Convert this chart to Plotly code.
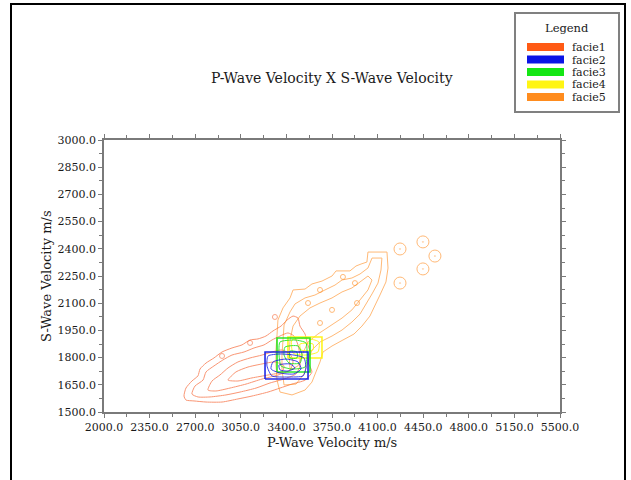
import plotly.graph_objects as go

# ---------------------------------------------------------------------------
# Facies names and colours
# ---------------------------------------------------------------------------
facies = ["facie1", "facie2", "facie3", "facie4", "facie5"]
facie_colors = ["#FF5A14", "#0A14E6", "#14E614", "#FFF514", "#FF8C1E"]

# Axis ticks (m/s)
x_ticks = [2000, 2350, 2700, 3050, 3400, 3750, 4100, 4450, 4800, 5150, 5500]
y_ticks = [1500, 1650, 1800, 1950, 2100, 2250, 2400, 2550, 2700, 2850, 3000]

# ---------------------------------------------------------------------------
# Density contour rings, (Vp, Vs) in m/s, from outer level to inner level
# ---------------------------------------------------------------------------
facie1_level1 = [(2614, 1588), (2629, 1632), (2675, 1671), (2721, 1699), (2737, 1737),
                 (2783, 1770), (2844, 1798), (2906, 1831), (2982, 1853), (3059, 1870),
                 (3121, 1897), (3182, 1903), (3243, 1919), (3297, 1947), (3359, 1974),
                 (3405, 2007), (3451, 2029), (3489, 2018), (3504, 1974), (3543, 1930),
                 (3558, 1886), (3581, 1831), (3566, 1776), (3596, 1721), (3543, 1676),
                 (3443, 1654), (3351, 1632), (3259, 1610), (3136, 1588), (3028, 1572),
                 (2906, 1555), (2783, 1555), (2691, 1561), (2629, 1566)]
facie1_level2 = [(2675, 1599), (2698, 1643), (2760, 1676), (2783, 1721), (2844, 1754),
                 (2913, 1787), (2982, 1814), (3075, 1831), (3151, 1853), (3228, 1870),
                 (3289, 1897), (3351, 1919), (3412, 1936), (3458, 1919), (3489, 1870),
                 (3504, 1809), (3504, 1754), (3474, 1710), (3382, 1682), (3274, 1660),
                 (3167, 1632), (3044, 1610), (2936, 1594), (2814, 1583), (2721, 1583)]
facie1_level3 = [(2798, 1621), (2829, 1671), (2890, 1704), (2952, 1743), (3028, 1776),
                 (3121, 1798), (3213, 1814), (3289, 1831), (3366, 1842), (3428, 1820),
                 (3451, 1776), (3428, 1732), (3335, 1704), (3213, 1682), (3090, 1654),
                 (2967, 1632), (2860, 1616)]
facie1_level4 = [(2952, 1676), (3013, 1721), (3105, 1748), (3213, 1765), (3312, 1776),
                 (3382, 1754), (3366, 1721), (3259, 1704), (3136, 1688), (3028, 1671)]
facie1_peaks = [(3312, 2024), (3121, 1881), (2906, 1809)]

facie5_level1 = [(3351, 1610), (3328, 1676), (3320, 1759), (3320, 1842), (3328, 1925),
                 (3335, 2007), (3374, 2074), (3428, 2129), (3451, 2173), (3543, 2178),
                 (3596, 2206), (3673, 2222), (3750, 2250), (3781, 2278), (3888, 2278),
                 (3934, 2305), (3973, 2316), (4018, 2327), (4026, 2382), (4172, 2382),
                 (4180, 2294), (4164, 2217), (4118, 2145), (4087, 2101), (4041, 2029),
                 (3980, 1974), (3919, 1930), (3834, 1897), (3750, 1864), (3681, 1831),
                 (3658, 1776), (3627, 1721), (3596, 1665), (3543, 1621), (3443, 1594)]
facie5_level2 = [(3382, 1649), (3366, 1732), (3366, 1814), (3374, 1897), (3382, 1980),
                 (3428, 2052), (3466, 2096), (3543, 2129), (3619, 2145), (3696, 2173),
                 (3773, 2200), (3827, 2228), (3903, 2239), (3965, 2261), (4026, 2294),
                 (4057, 2349), (4133, 2349), (4126, 2283), (4103, 2211), (4057, 2151),
                 (4011, 2096), (3965, 2040), (3903, 1996), (3827, 1952), (3750, 1919),
                 (3658, 1886), (3596, 1842), (3566, 1776), (3535, 1710), (3474, 1654)]
facie5_level3 = [(3428, 1732), (3420, 1814), (3428, 1897), (3451, 1974), (3504, 2029),
                 (3581, 2074), (3658, 2101), (3750, 2129), (3827, 2162), (3903, 2184),
                 (3965, 2217), (4026, 2250), (4057, 2228), (4026, 2173), (3965, 2118),
                 (3903, 2063), (3827, 2018), (3735, 1974), (3642, 1930), (3566, 1886),
                 (3520, 1814), (3489, 1754)]
facie5_peaks = [(3834, 2245), (3926, 2211), (3658, 2173), (3566, 2101), (3750, 2063),
                (3942, 2101), (3658, 1991)]
facie5_outliers = [(4272, 2399), (4448, 2438), (4540, 2360), (4448, 2289), (4272, 2211)]

facie4_level1 = [(3412, 1798), (3412, 1914), (3673, 1914), (3673, 1798)]
facie4_level2 = [(3443, 1897), (3581, 1903), (3650, 1886), (3642, 1831), (3543, 1814),
                 (3451, 1825)]
facie4_level3 = [(3504, 1875), (3604, 1875), (3604, 1842), (3512, 1842)]

facie3_level1 = [(3328, 1721), (3328, 1908), (3581, 1908), (3581, 1721)]
facie3_level2 = [(3351, 1886), (3466, 1897), (3550, 1881), (3558, 1814), (3543, 1748),
                 (3443, 1737), (3359, 1754), (3343, 1825)]
facie3_level3 = [(3389, 1858), (3489, 1864), (3520, 1814), (3504, 1770), (3420, 1770),
                 (3382, 1814)]
facie3_level4 = [(3428, 1836), (3481, 1831), (3481, 1798), (3428, 1798)]

facie2_level1 = [(3236, 1682), (3236, 1831), (3566, 1831), (3566, 1682)]
facie2_level2 = [(3259, 1809), (3351, 1820), (3458, 1814), (3535, 1798), (3550, 1743),
                 (3528, 1699), (3412, 1693), (3289, 1699), (3251, 1754)]
facie2_level3 = [(3297, 1776), (3397, 1792), (3489, 1776), (3512, 1737), (3458, 1710),
                 (3351, 1715), (3282, 1737)]
facie2_level4 = [(3343, 1759), (3428, 1765), (3466, 1743), (3412, 1726), (3351, 1732)]

FONT = "DejaVu Serif"
TEXT = "#1a1a1a"
AXIS = "#7a7a7a"

# Plot-area geometry (pixels) used to place decorations in paper units
PLOT_L, PLOT_R, PLOT_T, PLOT_B = 104, 560, 140, 412
W, H = 631, 480


def paper_x(px):
    return (px - PLOT_L) / (PLOT_R - PLOT_L)


def paper_y(py):
    return (PLOT_B - py) / (PLOT_B - PLOT_T)


fig = go.Figure()


def add_ring(ring, color, width=1.0, opacity=0.85, smooth=False):
    xs = [p[0] for p in ring] + [ring[0][0]]
    ys = [p[1] for p in ring] + [ring[0][1]]
    fig.add_trace(go.Scatter(
        x=xs, y=ys, mode="lines",
        line=dict(color=color, width=width,
                  shape="spline" if smooth else "linear",
                  smoothing=0.6 if smooth else None),
        opacity=opacity, hoverinfo="skip", showlegend=False))


def add_peaks(points, color, size, symbol="circle-open", opacity=0.85):
    fig.add_trace(go.Scatter(
        x=[p[0] for p in points], y=[p[1] for p in points], mode="markers",
        marker=dict(symbol=symbol, size=size, color=color,
                    line=dict(color=color, width=1)),
        opacity=opacity, hoverinfo="skip", showlegend=False))


c1, c2, c3, c4, c5 = facie_colors

# facie1
for ring in (facie1_level1, facie1_level2, facie1_level3, facie1_level4):
    add_ring(ring, "#F86A3A", width=1.0, opacity=0.7, smooth=True)
add_peaks(facie1_peaks, "#F86A3A", 5, opacity=0.6)

# facie5
for ring in (facie5_level1, facie5_level2, facie5_level3):
    add_ring(ring, c5, width=1.0, opacity=0.6)
add_peaks(facie5_peaks, c5, 5, opacity=0.6)
add_peaks(facie5_outliers, c5, 12, symbol="circle-open-dot", opacity=0.6)

# facie4
add_ring(facie4_level1, c4, width=1.6, opacity=0.95)
for ring in (facie4_level2, facie4_level3):
    add_ring(ring, c4, width=1.0, opacity=0.9, smooth=True)

# facie3
add_ring(facie3_level1, c3, width=1.6, opacity=0.9)
for ring in (facie3_level2, facie3_level3, facie3_level4):
    add_ring(ring, c3, width=1.0, opacity=0.85, smooth=True)

# facie2
add_ring(facie2_level1, c2, width=1.6, opacity=0.9)
for ring in (facie2_level2, facie2_level3, facie2_level4):
    add_ring(ring, c2, width=1.0, opacity=0.8, smooth=True)

# ---------------------------------------------------------------------------
# Decorations: outer frame, legend box, titles
# ---------------------------------------------------------------------------
shapes = [
    dict(type="rect", xref="paper", yref="paper",
         x0=paper_x(11), x1=paper_x(625), y0=paper_y(490), y1=paper_y(4),
         line=dict(color="#000000", width=2), fillcolor="rgba(0,0,0,0)"),
    dict(type="rect", xref="paper", yref="paper",
         x0=paper_x(515), x1=paper_x(619), y0=paper_y(112), y1=paper_y(13),
         line=dict(color="#808080", width=2), fillcolor="white"),
]
annotations = [
    dict(text="Legend", xref="paper", yref="paper", x=paper_x(567), y=paper_y(28),
         showarrow=False, xanchor="center", yanchor="middle",
         font=dict(family=FONT, size=11.5, color=TEXT)),
    dict(text="P-Wave Velocity X S-Wave Velocity", xref="paper", yref="paper",
         x=0.5, y=paper_y(78), showarrow=False, xanchor="center", yanchor="middle",
         font=dict(family=FONT, size=14, color=TEXT)),
    dict(text="P-Wave Velocity m/s", xref="paper", yref="paper",
         x=0.5, y=paper_y(442), showarrow=False, xanchor="center", yanchor="middle",
         font=dict(family=FONT, size=13, color=TEXT)),
    dict(text="S-Wave Velocity m/s", xref="paper", yref="paper",
         x=paper_x(46), y=0.5, showarrow=False, xanchor="center", yanchor="middle",
         textangle=-90, font=dict(family=FONT, size=13, color=TEXT)),
]
for i, (name, col) in enumerate(zip(facies, facie_colors)):
    yc = 47 + 12.5 * i
    shapes.append(dict(type="rect", xref="paper", yref="paper",
                       x0=paper_x(527), x1=paper_x(564),
                       y0=paper_y(yc + 4), y1=paper_y(yc - 4),
                       line=dict(width=0), fillcolor=col))
    annotations.append(dict(text=name, xref="paper", yref="paper",
                            x=paper_x(571), y=paper_y(yc), showarrow=False,
                            xanchor="left", yanchor="middle", height=12,
                            borderpad=0,
                            font=dict(family=FONT, size=11, color=TEXT)))

axis_common = dict(
    ticks="outside", ticklen=4, tickwidth=1, tickcolor=AXIS,
    showline=True, linecolor=AXIS, linewidth=1.5, mirror="ticks",
    showgrid=False, zeroline=False, tickformat=".1f",
    tickfont=dict(family=FONT, size=11, color=TEXT),
)

fig.update_layout(
    width=W, height=H, autosize=False,
    margin=dict(l=PLOT_L, r=W - PLOT_R, t=PLOT_T, b=H - PLOT_B, pad=0),
    paper_bgcolor="white", plot_bgcolor="white",
    showlegend=False,
    xaxis=dict(range=[x_ticks[0], x_ticks[-1]], tickmode="array", tickvals=x_ticks,
               minor=dict(dtick=175, tick0=2000, ticks="outside", ticklen=3,
                          tickcolor=AXIS, showgrid=False),
               **axis_common),
    yaxis=dict(range=[y_ticks[0], y_ticks[-1]], tickmode="array", tickvals=y_ticks,
               minor=dict(dtick=75, tick0=1500, ticks="outside", ticklen=3,
                          tickcolor=AXIS, showgrid=False),
               **axis_common),
    shapes=shapes,
    annotations=annotations,
)

fig.write_html("out.html")
